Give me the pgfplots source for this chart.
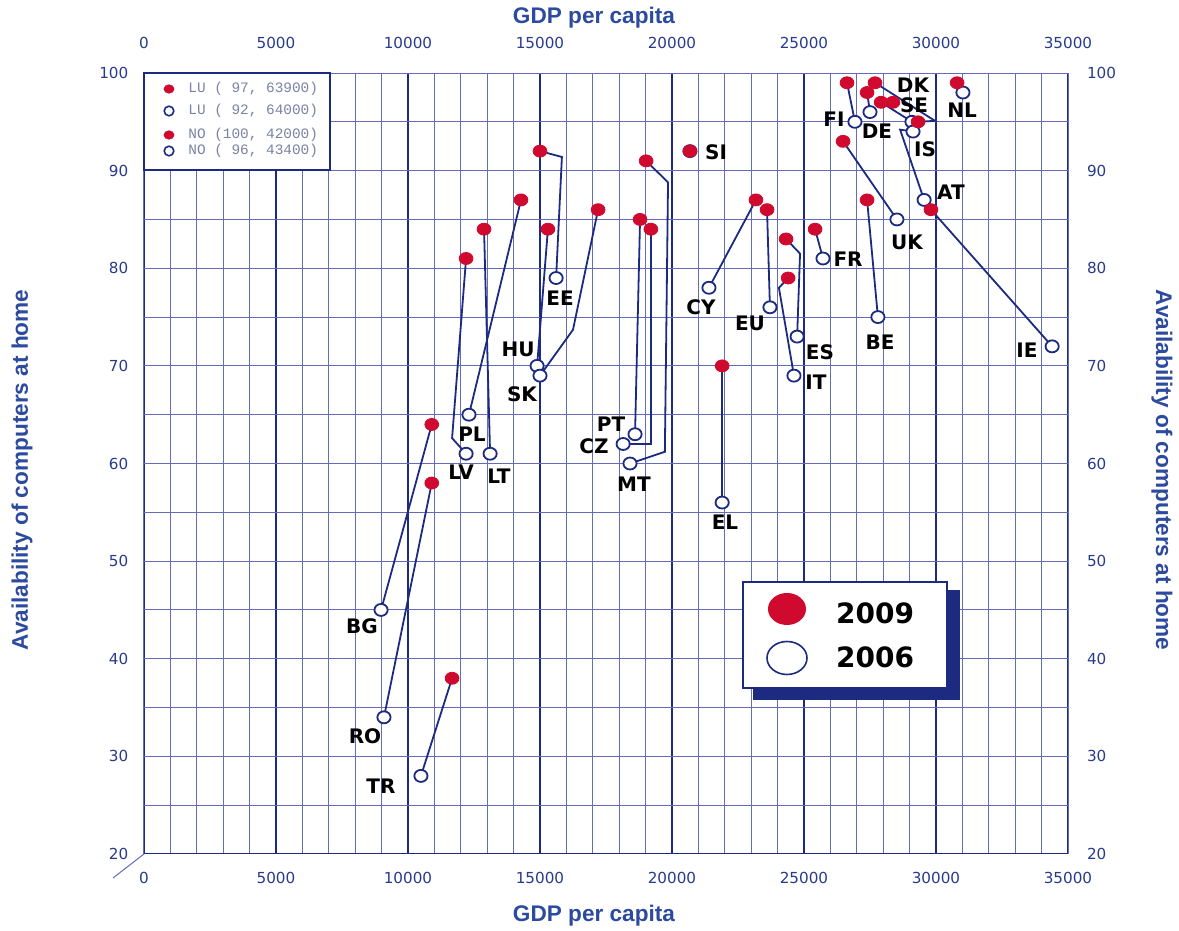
\documentclass[border=0pt]{standalone}
\usepackage{fontspec}
\setmainfont{DejaVu Sans}
\newfontfamily\titlefont{Liberation Sans}
\newfontfamily\legmono{Liberation Mono}
\usepackage{pgfplots}
\pgfplotsset{compat=1.18}

\definecolor{navy}{RGB}{28,42,128}
\definecolor{gridblue}{RGB}{100,108,186}
\definecolor{tickblue}{RGB}{40,58,140}
\definecolor{titleblue}{RGB}{44,74,158}
\definecolor{dotred}{RGB}{208,10,46}
\definecolor{leggray}{RGB}{124,130,166}

\pgfplotsset{
  country/.style={navy, line width=0.9pt, mark=none},
  frame/.style={scale only axis, width=462pt, height=390.5pt,
    at={(0,0)}, anchor=south west,
    xmin=0, xmax=35000, ymin=20, ymax=100,
    scaled x ticks=false, scaled y ticks=false,
    xtick={0,5000,10000,15000,20000,25000,30000,35000},
    xticklabels={0,5000,10000,15000,20000,25000,30000,35000},
    ytick={20,30,40,50,60,70,80,90,100},
    yticklabels={20,30,40,50,60,70,80,90,100},
    major tick length=0pt, minor tick length=0pt,
    tick label style={font=\fontsize{7.6}{8}\selectfont, text=tickblue}},
}
\tikzset{cname/.style={font=\fontsize{10}{10}\selectfont\bfseries, text=black, inner sep=0pt},
  ttl/.style={font=\titlefont\fontsize{11.3}{12}\selectfont\bfseries, text=titleblue}}

\begin{document}
\begin{tikzpicture}
\begin{axis}[frame,
  minor x tick num=4,
  minor ytick={20,25,...,100},
  xmajorgrids, xminorgrids, yminorgrids,
  major grid style={navy, line width=1.1pt},
  minor grid style={gridblue, line width=0.5pt},
  axis line style={gridblue, line width=0.5pt},
  xticklabel style={yshift=-5.5pt},
  yticklabel style={xshift=-4.3pt},
]
% 2009 -> 2006 links
\addplot[country] coordinates {(10900,64) (8980,45)};
\addplot[country] coordinates {(10900,58) (9090,34)};
\addplot[country] coordinates {(11670,38) (10490,28)};
\addplot[country] coordinates {(12200,81) (11670,62.6) (12200,61)};
\addplot[country] coordinates {(12880,84) (13110,61)};
\addplot[country] coordinates {(14280,87) (12310,65)};
\addplot[country] coordinates {(15000,92) (15830,91.4) (15610,79)};
\addplot[country] coordinates {(15300,84) (14890,70)};
\addplot[country] coordinates {(17200,86) (16250,73.7) (15000,69)};
\addplot[country] coordinates {(19020,91) (19850,88.8) (19730,61.2) (18410,60)};
\addplot[country] coordinates {(18790,85) (18600,63)};
\addplot[country] coordinates {(19200,84) (19200,62) (18150,62)};
\addplot[country] coordinates {(21900,70) (21900,56)};
\addplot[country] coordinates {(23180,87) (21400,78)};
\addplot[country] coordinates {(23600,86) (23710,76)};
\addplot[country] coordinates {(24320,83) (24850,81.5) (24740,73)};
\addplot[country] coordinates {(24400,79) (24050,78) (24620,69)};
\addplot[country] coordinates {(25420,84) (25720,81)};
\addplot[country] coordinates {(27390,87) (27800,75)};
\addplot[country] coordinates {(26480,93) (28520,85)};
\addplot[country] coordinates {(26630,99) (26930,95)};
\addplot[country] coordinates {(27390,98) (27500,96)};
\addplot[country] coordinates {(27920,97) (29090,95)};
\addplot[country] coordinates {(27690,99) (29960,95.1) (29320,95)};
\addplot[country] coordinates {(29550,87) (28640,94.2) (29130,94)};
\addplot[country] coordinates {(29810,86) (34400,72)};
\addplot[country] coordinates {(30800,99) (31020,98)};

% 2006
\addplot[only marks, mark=*, mark size=3pt,
  mark options={draw=navy, fill=white, line width=0.9pt, xscale=1.1}] coordinates {
  (8980,45) (9090,34) (10490,28) (12200,61) (13110,61) (12310,65)
  (15610,79) (14890,70) (15000,69) (18410,60) (18600,63) (18150,62)
  (20680,92) (21900,56) (21400,78) (23710,76) (24740,73) (24620,69)
  (25720,81) (27800,75) (28520,85) (26930,95) (27500,96) (29090,95)
  (29130,94) (29550,87) (34400,72) (31020,98)};
% 2009
\addplot[only marks, mark=*, mark size=3pt,
  mark options={draw=dotred, fill=dotred, xscale=1.15}] coordinates {
  (10900,64) (10900,58) (11670,38) (12200,81) (12880,84) (14280,87)
  (15000,92) (15300,84) (17200,86) (19020,91) (18790,85) (19200,84)
  (20680,92) (21900,70) (23180,87) (23600,86) (24320,83) (24400,79)
  (25420,84) (27390,87) (26480,93) (26630,99) (27690,99) (27390,98)
  (27920,97) (28370,97) (29320,95) (29810,86) (30800,99)};

\node[cname] at (axis cs:8258,43.36) {BG};
\node[cname] at (axis cs:8371,32.09) {RO};
\node[cname] at (axis cs:8978,26.97) {TR};
\node[cname] at (axis cs:12008,59.13) {LV};
\node[cname] at (axis cs:13447,58.72) {LT};
\node[cname] at (axis cs:12425,63.02) {PL};
\node[cname] at (axis cs:14167,71.73) {HU};
\node[cname] at (axis cs:14319,67.12) {SK};
\node[cname] at (axis cs:15758,76.95) {EE};
\node[cname] at (axis cs:17690,64.05) {PT};
\node[cname] at (axis cs:17046,61.79) {CZ};
\node[cname] at (axis cs:18561,57.90) {MT};
\node[cname] at (axis cs:21668,91.9) {SI};
\node[cname] at (axis cs:21099,76.03) {CY};
\node[cname] at (axis cs:22008,54.01) {EL};
\node[cname] at (axis cs:22955,74.39) {EU};
\node[cname] at (axis cs:25607,71.42) {ES};
\node[cname] at (axis cs:25455,68.35) {IT};
\node[cname] at (axis cs:26668,80.95) {FR};
\node[cname] at (axis cs:27880,72.45) {BE};
\node[cname] at (axis cs:28902,82.69) {UK};
\node[cname] at (axis cs:33448,71.63) {IE};
\node[cname] at (axis cs:30569,87.76) {AT};
\node[cname] at (axis cs:29584,92.22) {IS};
\node[cname] at (axis cs:30986,96.21) {NL};
\node[cname] at (axis cs:29130,98.77) {DK};
\node[cname] at (axis cs:29168,96.72) {SE};
\node[cname] at (axis cs:26137,95.29) {FI};
\node[cname] at (axis cs:27766,94.06) {DE};

\draw[navy, line width=0.8pt] (rel axis cs:0,0) -- (rel axis cs:1,0);
\end{axis}

% top and right tick labels
\begin{axis}[frame,
  axis x line*=top, axis y line*=right,
  axis line style={draw=none},
  xticklabel style={yshift=8.5pt},
  yticklabel style={xshift=6pt},
]
\end{axis}

\pgfresetboundingbox
\path[use as bounding box] (-72pt,-38.5pt) rectangle (517.5pt,427pt);

\draw[gridblue, line width=0.5pt] (0,0) -- (-15.5pt,-12pt);

\node[ttl] at (225pt,418pt) {GDP per capita};
\node[ttl] at (225pt,-31pt) {GDP per capita};
\node[ttl, rotate=90] at (-61pt,192pt) {Availability of computers at home};
\node[ttl, rotate=-90] at (509pt,192pt) {Availability of computers at home};

% LU / NO box
\draw[navy, line width=1pt, fill=white] (0,342pt) rectangle (93pt,390.5pt);
\fill[dotred] (12.5pt,382.5pt) ellipse (2.7pt and 2.3pt);
\draw[navy, line width=0.8pt, fill=white] (12.5pt,371.5pt) circle (2.4pt);
\fill[dotred] (12.5pt,359.5pt) ellipse (2.7pt and 2.3pt);
\draw[navy, line width=0.8pt, fill=white] (12.5pt,351.5pt) circle (2.4pt);
\begin{scope}[every node/.style={anchor=west, inner sep=0pt, text=leggray,
    font=\legmono\fontsize{7.2}{8}\selectfont}]
\node at (22pt,382.5pt) {LU ( 97, 63900)};
\node at (22pt,371.5pt) {LU ( 92, 64000)};
\node at (22pt,359.5pt) {NO (100, 42000)};
\node at (22pt,351.5pt) {NO ( 96, 43400)};
\end{scope}

% year legend
\fill[navy] (304.5pt,77pt) rectangle (408pt,132pt);
\draw[navy, line width=0.8pt, fill=white] (299.5pt,83pt) rectangle (401.5pt,136pt);
\fill[dotred] (321.5pt,122.5pt) ellipse (9.5pt and 8pt);
\draw[navy, line width=0.8pt] (321.5pt,98pt) ellipse (10pt and 8.25pt);
\node[font=\bfseries\fontsize{14}{14}\selectfont] at (365.5pt,120.5pt) {2009};
\node[font=\bfseries\fontsize{14}{14}\selectfont] at (365.5pt,98.5pt) {2006};
\end{tikzpicture}
\end{document}
